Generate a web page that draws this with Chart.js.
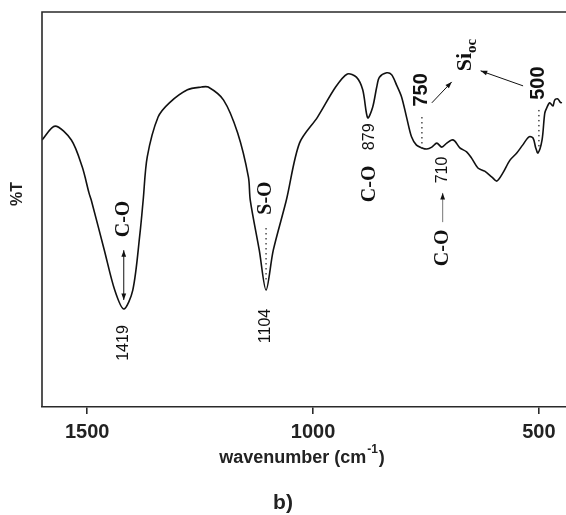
<!DOCTYPE html>
<html>
<head>
<meta charset="utf-8">
<script src="https://cdn.jsdelivr.net/npm/chart.js@4.4.1/dist/chart.umd.min.js"></script>
<style>
  html, body { margin: 0; padding: 0; background: #fff; }
  canvas { display: block; }
</style>
</head>
<body>
<canvas id="chart" width="566" height="515"></canvas>
<script>
// spectrum (wavenumber in cm-1, %T in arbitrary units 0..100)
const wavenumbers = [1600, 1571, 1535, 1511, 1496, 1491, 1462, 1439, 1419, 1399, 1383, 1376, 1367, 1343, 1318,
  1278, 1247, 1232, 1198, 1167, 1143, 1139, 1119, 1104, 1088, 1059, 1030, 990, 950, 924, 904, 890, 879,
  868, 859, 853, 837, 826, 815, 804, 793, 782, 771, 759, 748, 737, 726, 715, 704, 693, 686, 675, 660, 649,
  635, 620, 604, 593, 580, 564, 549, 536, 522, 513, 507, 502, 493, 487, 482, 476, 469, 465, 458, 453, 449];
const transmittance = [67.6, 71.1, 67.6, 60.8, 54.2, 52.4, 39.7, 29.6, 24.8, 29.6, 44.1, 52.4, 63.3, 73.4, 77.0,
  80.3, 81.0, 81.0, 77.7, 69.4, 58.2, 52.4, 39.7, 29.6, 39.7, 52.4, 66.8, 73.4, 81.0, 84.3, 83.5, 80.3, 73.2,
  75.9, 81.0, 83.5, 84.6, 84.1, 81.5, 78.5, 73.4, 68.4, 66.3, 65.6, 65.3, 65.8, 66.8, 65.8, 66.8, 67.6, 67.3, 65.6, 64.6, 63.0,
  60.5, 59.7, 58.2, 57.2, 59.2, 62.5, 64.3, 66.3, 68.4, 68.1, 65.6, 64.3, 67.6, 74.4, 75.9, 77.0, 76.2, 77.7, 78.0, 77.2, 77.0];
const xTicks = [1500, 1000, 500];

// peak labels, placed in data units
const serifLabels = [
  { text: "C-O", wn: 1419, y: 47.6 },
  { text: "S-O", wn: 1104, y: 52.9 },
  { text: "C-O", wn: 875, y: 56.5 },
  { text: "C-O", wn: 713, y: 40.3 }
];
const numberLabels = [
  { text: "1419", wn: 1419, y: 16.2 },
  { text: "1104", wn: 1104, y: 20.5 },
  { text: "879", wn: 875, y: 68.4 },
  { text: "710", wn: 713, y: 60.0 }
];
const boldNumbers = [
  { text: "750", wn: 759, y: 80.3 },
  { text: "500", wn: 500, y: 82.0 }
];
const dottedLines = [
  { wn: 1104, y1: 45.3, y2: 31.6 },
  { wn: 759, y1: 73.4, y2: 65.8 },
  { wn: 500, y1: 75.2, y2: 65.1 }
];

const ctx = document.getElementById("chart").getContext("2d");

function arrowHead(c, x1, y1, x2, y2, size) {
  const a = Math.atan2(y2 - y1, x2 - x1);
  c.beginPath();
  c.moveTo(x2, y2);
  c.lineTo(x2 - size * Math.cos(a - 0.35), y2 - size * Math.sin(a - 0.35));
  c.lineTo(x2 - size * Math.cos(a + 0.35), y2 - size * Math.sin(a + 0.35));
  c.closePath();
  c.fill();
}

function arrow(c, x1, y1, x2, y2, both) {
  c.beginPath();
  c.moveTo(x1, y1);
  c.lineTo(x2, y2);
  c.stroke();
  arrowHead(c, x1, y1, x2, y2, 7);
  if (both) arrowHead(c, x2, y2, x1, y1, 7);
}

function upText(c, text, x, y, font) {
  c.save();
  c.translate(x, y);
  c.rotate(-Math.PI / 2);
  c.font = font;
  c.textAlign = "center";
  c.textBaseline = "middle";
  c.fillText(text, 0, 0);
  c.restore();
}

const extras = {
  id: "extras",
  afterDraw(chart) {
    const c = chart.ctx;
    const xs = chart.scales.x, ys = chart.scales.y;
    const area = chart.chartArea;
    const px = v => xs.getPixelForValue(v);
    const py = v => ys.getPixelForValue(v);

    c.save();
    // frame: top and left
    c.strokeStyle = "#2a2a2a";
    c.lineWidth = 1.6;
    c.beginPath();
    c.moveTo(area.left, area.bottom);
    c.lineTo(area.left, area.top);
    c.lineTo(chart.width, area.top);
    c.stroke();

    c.fillStyle = "#111";
    serifLabels.forEach(l => upText(c, l.text, px(l.wn), py(l.y), "bold 20px 'Liberation Serif'"));
    numberLabels.forEach(l => upText(c, l.text, px(l.wn), py(l.y), "16px 'Liberation Sans'"));
    boldNumbers.forEach(l => upText(c, l.text, px(l.wn), py(l.y), "bold 20px 'Liberation Sans'"));

    // Si with subscript oc
    c.save();
    c.translate(px(662), py(87.3));
    c.rotate(-Math.PI / 2);
    c.textBaseline = "middle";
    c.font = "bold 22px 'Liberation Serif'";
    const wSi = c.measureText("Si").width;
    c.fillText("Si", -wSi / 2, 0);
    c.font = "bold 15px 'Liberation Serif'";
    c.fillText("oc", wSi / 2, 6);
    c.restore();

    // dotted guides
    c.fillStyle = "#333";
    dottedLines.forEach(d => {
      const x = px(d.wn);
      for (let y = py(d.y1); y <= py(d.y2); y += 5) {
        c.fillRect(x - 0.7, y, 1.4, 1.4);
      }
    });

    // arrows
    c.strokeStyle = "#111";
    c.fillStyle = "#111";
    c.lineWidth = 1;
    arrow(c, px(1419), py(39.7), px(1419), py(27.1), true);
    arrow(c, px(737), py(77.0), px(693), py(82.3), false);
    arrow(c, px(535), py(81.3), px(629), py(85.1), false);
    c.strokeStyle = "#777";
    arrow(c, px(713), py(46.8), px(713), py(54.2), false);

    // axis titles
    c.fillStyle = "#222";
    upText(c, "%T", 18, 194, "bold 16px 'Liberation Sans'");
    c.font = "bold 18px 'Liberation Sans'";
    c.textBaseline = "middle";
    c.textAlign = "left";
    const t1 = "wavenumber (cm", sup = "-1", t2 = ")";
    const w1 = c.measureText(t1).width;
    c.font = "bold 12px 'Liberation Sans'";
    const ws = c.measureText(sup).width;
    c.font = "bold 18px 'Liberation Sans'";
    const w2 = c.measureText(t2).width;
    let x0 = 301 - (w1 + ws + w2) / 2;
    c.fillText(t1, x0, 458);
    c.font = "bold 12px 'Liberation Sans'";
    c.fillText(sup, x0 + w1 + 1, 450);
    c.font = "bold 18px 'Liberation Sans'";
    c.fillText(t2, x0 + w1 + ws + 2, 458);

    c.font = "bold 21px 'Liberation Sans'";
    c.textAlign = "center";
    c.fillText("b)", 283, 503);
    c.restore();
  }
};

new Chart(ctx, {
  type: "line",
  data: {
    datasets: [{
      data: wavenumbers.map((w, i) => ({ x: w, y: transmittance[i] })),
      borderColor: "#111",
      borderWidth: 1.6,
      pointRadius: 0,
      tension: 0.3,
      fill: false
    }]
  },
  options: {
    responsive: false,
    animation: false,
    devicePixelRatio: 1,
    layout: { padding: { left: 42, top: 12, right: 0, bottom: 0 } },
    plugins: { legend: { display: false }, tooltip: { enabled: false } },
    scales: {
      x: {
        type: "linear",
        reverse: true,
        min: 440,
        max: 1600,
        afterBuildTicks: s => { s.ticks = xTicks.map(v => ({ value: v })); },
        afterFit: s => { s.height = 108; },
        border: { color: "#2a2a2a", width: 1.6 },
        grid: { drawOnChartArea: false, drawTicks: true, tickLength: 7, color: "#2a2a2a", lineWidth: 1.6 },
        ticks: {
          color: "#222",
          padding: 6,
          maxRotation: 0,
          callback: v => String(v),
          font: { family: "'Liberation Sans'", size: 20, weight: "bold" }
        }
      },
      y: {
        display: false,
        min: 0,
        max: 100
      }
    }
  },
  plugins: [extras]
});
</script>
</body>
</html>
